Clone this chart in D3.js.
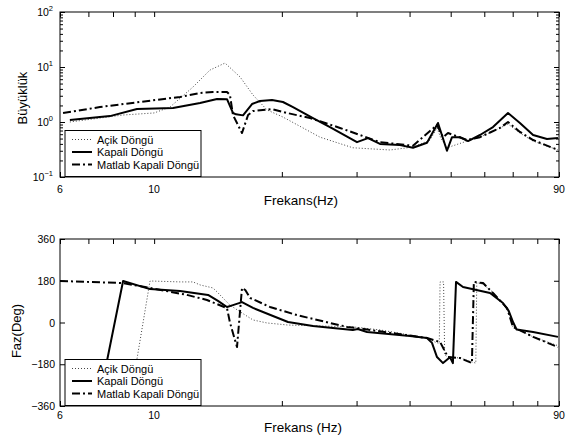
<!DOCTYPE html>
<html>
<head>
<meta charset="utf-8">
<script src="https://cdn.jsdelivr.net/npm/d3@7"></script>
<style>
body { margin: 0; background: #fff; }
text { font-family: "Liberation Sans", Arial, sans-serif; fill: #000; }
</style>
</head>
<body>
<svg id="chart" width="573" height="441"></svg>
<script>
// tick values and labels
var xTicks = [6, 7, 8, 9, 10, 20, 30, 40, 50, 60, 70, 80, 90];
var xLabelTicks = [6, 10, 90];
var magTicks = [0.1, 1, 10, 100];
var magExponents = ["\u22121", "0", "1", "2"];
var phaseTicks = [-360, -180, 0, 180, 360];
var seriesNames = ["Açik Döngü", "Kapali Döngü", "Matlab Kapali Döngü"];

// magnitude, [Hz, |G|]
var acikMag = [[6.33,1.0],[8.45,1.34],[10.0,1.46],[10.9,1.87],[12.35,4.33],[13.54,8.8],[14.69,11.8],[15.94,6.6],[17.1,3.1],[18.45,1.66],[20.12,1.23],[24.6,0.53],[29.4,0.34],[35.97,0.31],[40.75,0.35],[44.7,0.47],[46.42,0.78],[47.4,0.51],[49.0,0.34],[54.63,0.45],[58.62,0.53],[65.35,0.78],[68.24,0.92],[72.8,0.63],[78.2,0.45],[89.5,0.31]];
var kapaliMag = [[6.33,1.09],[7.45,1.23],[7.87,1.28],[9.11,1.72],[11.08,1.8],[12.83,2.22],[14.07,2.62],[14.85,2.6],[15.34,1.46],[15.6,1.38],[16.2,1.32],[17.01,2.12],[17.76,2.41],[18.96,2.51],[20.12,2.31],[21.25,1.87],[23.68,1.18],[25.97,0.81],[30.07,0.43],[31.92,0.51],[34.07,0.4],[37.98,0.38],[40.75,0.34],[43.97,0.42],[46.67,0.96],[49.0,0.3],[50.36,0.53],[52.59,0.53],[54.93,0.45],[58.62,0.58],[62.9,0.81],[68.24,1.46],[72.8,0.96],[78.2,0.58],[84.3,0.49],[89.5,0.51]];
var matlabMag = [[6.1,1.46],[7.45,1.87],[9.26,2.31],[11.51,2.85],[12.83,3.37],[13.76,3.51],[14.85,3.51],[15.09,3.1],[15.34,1.34],[16.11,0.63],[16.65,1.34],[17.1,1.58],[18.96,1.72],[20.57,1.46],[23.3,1.18],[27.42,0.78],[30.57,0.58],[34.07,0.43],[40.75,0.37],[46.42,0.88],[47.96,0.53],[49.27,0.63],[54.63,0.47],[58.62,0.53],[65.35,0.78],[68.24,1.0],[72.8,0.66],[78.2,0.47],[89.5,0.31]];

// phase, [Hz, deg]
var acikPhase = [[8.73,-360],[9.78,179],[11.51,175],[12.35,175],[12.83,162],[13.76,149],[14.07,132],[14.85,88],[15.09,75],[16.11,41],[17.1,11],[18.45,-2],[20.68,-11],[29.4,-19],[34.07,-32],[40.1,-54],[43.97,-67],[46.0,-85],[47.0,-90],[47.2,175],[48.1,175],[48.4,-140],[49.27,-149],[52.59,-153],[56.1,-170],[57.3,-175],[57.6,172],[59.6,165],[62.9,130],[67.9,62],[70.1,-19],[78.2,-62],[89.5,-100]];
var kapaliPhase = [[7.37,-360],[8.45,179],[9.78,144],[11.51,136],[13.4,119],[14.14,93],[14.85,67],[15.34,75],[16.11,88],[17.1,63],[19.06,28],[20.68,2],[23.68,-15],[29.4,-32],[30.2,-28],[31.75,-41],[40.1,-58],[43.97,-67],[45.17,-88],[46.42,-149],[47.96,-175],[49.81,-150],[50.6,-175],[51.47,175],[53.46,153],[61.9,127],[66.4,84],[68.5,50],[70.2,0],[71.5,-30],[78.2,-41],[89.5,-62]];
var matlabPhase = [[6.0,179],[8.45,170],[9.78,149],[11.95,119],[13.32,97],[14.85,62],[15.09,0],[15.68,-106],[16.11,149],[16.4,140],[16.83,106],[18.75,67],[21.7,32],[25.97,-2],[28.5,-19],[30.07,-24],[43.97,-67],[47.2,-84],[49.27,-149],[52.59,-153],[56.1,-175],[56.7,175],[59.6,170],[62.9,127],[67.9,62],[70.1,-19],[78.2,-62],[89.5,-106]];

var styles = [
  {stroke: "#444", width: 1, dash: "1,2"},
  {stroke: "#000", width: 2, dash: null},
  {stroke: "#000", width: 2, dash: "8,3,2,3"}
];

var svg = d3.select("#chart");
var left = 60, right = 559;

var x = d3.scaleLog().domain([6, 90]).range([left, right]);

function drawPanel(opt) {
  var top = opt.top, bottom = opt.bottom;
  var y = opt.y.range([bottom, top]);
  var g = svg.append("g");

  g.append("clipPath").attr("id", opt.id)
    .append("rect").attr("x", left).attr("y", top)
    .attr("width", right - left).attr("height", bottom - top);

  // x ticks, inward, top and bottom
  g.append("g").attr("transform", "translate(0," + bottom + ")")
    .call(d3.axisBottom(x).tickValues(xTicks).tickSize(-5).tickSizeOuter(0).tickFormat(""));
  g.append("g").attr("transform", "translate(0," + top + ")")
    .call(d3.axisTop(x).tickValues(xTicks).tickSize(-5).tickSizeOuter(0).tickFormat(""));

  if (opt.minor) {
    g.append("g").attr("transform", "translate(" + left + ",0)")
      .call(d3.axisLeft(y).tickValues(y.ticks()).tickSize(-3).tickSizeOuter(0).tickFormat(""));
    g.append("g").attr("transform", "translate(" + right + ",0)")
      .call(d3.axisRight(y).tickValues(y.ticks()).tickSize(-3).tickSizeOuter(0).tickFormat(""));
  }
  g.append("g").attr("transform", "translate(" + left + ",0)")
    .call(d3.axisLeft(y).tickValues(opt.yTicks).tickSize(-5).tickSizeOuter(0).tickFormat(""));
  g.append("g").attr("transform", "translate(" + right + ",0)")
    .call(d3.axisRight(y).tickValues(opt.yTicks).tickSize(-5).tickSizeOuter(0).tickFormat(""));
  g.selectAll(".domain").remove();
  g.selectAll(".tick line").attr("stroke", "#000");

  // x tick labels
  g.selectAll(".xlab").data(xLabelTicks).enter().append("text")
    .attr("x", function(d) { return x(d); })
    .attr("y", bottom + opt.xLabOff)
    .attr("text-anchor", "middle")
    .style("font-size", "10.5px")
    .text(function(d) { return d; });

  // y tick labels
  if (opt.yExp) {
    var lab = g.selectAll(".ylab").data(opt.yTicks).enter().append("text")
      .attr("x", left - 7)
      .attr("y", function(d) { return y(d) + 4; })
      .attr("text-anchor", "end")
      .style("font-size", "10.5px");
    lab.append("tspan").text("10");
    lab.append("tspan").attr("dy", -5).style("font-size", "7.5px")
      .text(function(d, i) { return opt.yExp[i]; });
  } else {
    g.selectAll(".ylab").data(opt.yTicks).enter().append("text")
      .attr("x", left - 5)
      .attr("y", function(d) { return y(d) + 4; })
      .attr("text-anchor", "end")
      .style("font-size", "10.5px")
      .text(function(d) { return d3.format("d")(d); });
  }

  // curves
  var line = d3.line()
    .x(function(d) { return x(d[0]); })
    .y(function(d) { return y(d[1]); });
  opt.series.forEach(function(s, i) {
    g.append("path")
      .attr("d", line(s))
      .attr("clip-path", "url(#" + opt.id + ")")
      .attr("fill", "none")
      .attr("stroke", styles[i].stroke)
      .attr("stroke-width", styles[i].width)
      .attr("stroke-dasharray", styles[i].dash)
      .attr("stroke-linejoin", "round");
  });

  // box
  g.append("rect").attr("x", left).attr("y", top)
    .attr("width", right - left).attr("height", bottom - top)
    .attr("fill", "none").attr("stroke", "#000").attr("stroke-width", 1);

  // axis labels
  g.append("text").attr("x", opt.xTitleX).attr("y", opt.xTitleY)
    .attr("text-anchor", "middle").style("font-size", "13.5px").text(opt.xTitle);
  g.append("text")
    .attr("transform", "translate(" + opt.yTitleX + "," + opt.yTitleY + ") rotate(-90)")
    .attr("text-anchor", "middle").style("font-size", "13px").text(opt.yTitle);

  // legend
  var lg = g.append("g").attr("transform", "translate(65," + opt.legendTop + ")");
  lg.append("rect").attr("width", 136).attr("height", 46)
    .attr("fill", "#fff").attr("stroke", "#000").attr("stroke-width", 1);
  seriesNames.forEach(function(name, i) {
    var ly = 9 + i * 12.5;
    lg.append("line").attr("x1", 7).attr("x2", 27).attr("y1", ly).attr("y2", ly)
      .attr("stroke", styles[i].stroke).attr("stroke-width", styles[i].width)
      .attr("stroke-dasharray", styles[i].dash);
    lg.append("text").attr("x", 32).attr("y", ly + 4)
      .style("font-size", "11px").text(name);
  });
}

drawPanel({
  id: "clipMag", top: 12, bottom: 177,
  y: d3.scaleLog().domain([0.1, 100]),
  yTicks: magTicks, yExp: magExponents, minor: true,
  series: [acikMag, kapaliMag, matlabMag],
  xLabOff: 16, xTitle: "Frekans(Hz)", xTitleX: 301, xTitleY: 205,
  yTitle: "Büyüklük", yTitleX: 27, yTitleY: 98,
  legendTop: 130.5
});

drawPanel({
  id: "clipPhase", top: 239, bottom: 406,
  y: d3.scaleLinear().domain([-360, 360]),
  yTicks: phaseTicks, minor: false,
  series: [acikPhase, kapaliPhase, matlabPhase],
  xLabOff: 13, xTitle: "Frekans (Hz)", xTitleX: 303, xTitleY: 432,
  yTitle: "Faz(Deg)", yTitleX: 21, yTitleY: 331,
  legendTop: 359.5
});
</script>
</body>
</html>
